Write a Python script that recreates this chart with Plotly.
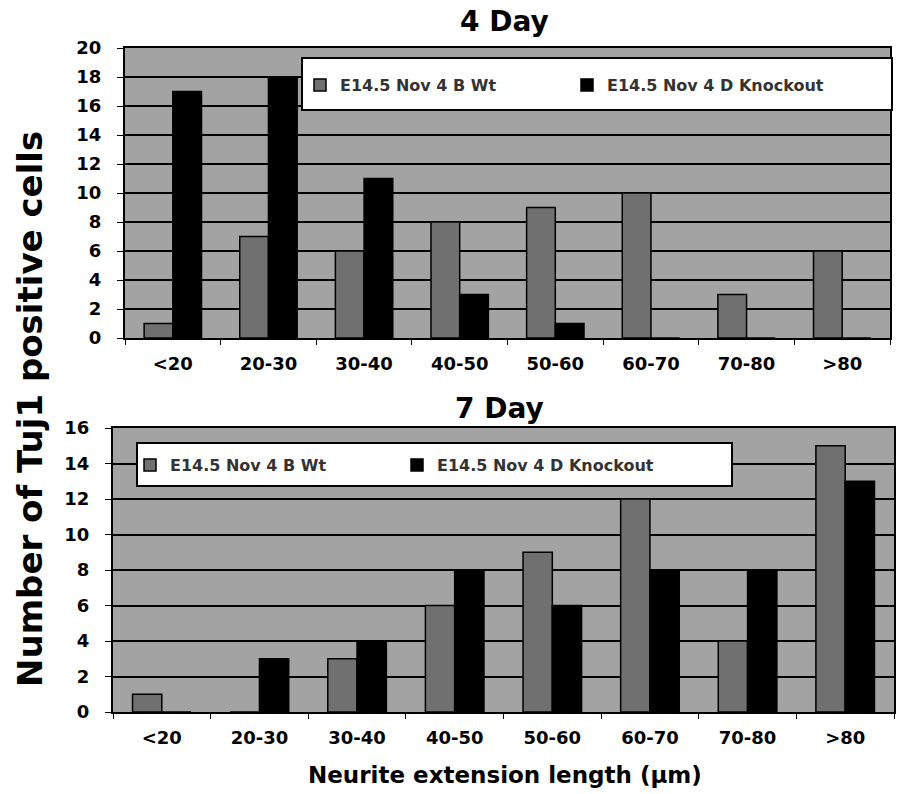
import plotly.graph_objects as go

categories = ["<20", "20-30", "30-40", "40-50", "50-60", "60-70", "70-80", ">80"]
day4_wt = [1, 7, 6, 8, 9, 10, 3, 6]
day4_ko = [17, 18, 11, 3, 1, 0, 0, 0]
day7_wt = [1, 0, 3, 6, 9, 12, 4, 15]
day7_ko = [0, 3, 4, 8, 6, 8, 8, 13]
wt_name = "E14.5 Nov 4 B Wt"
ko_name = "E14.5 Nov 4 D Knockout"
y1_ticks = list(range(0, 21, 2))
y2_ticks = list(range(0, 17, 2))

W, H = 899, 794
FONT = "DejaVu Sans"
BG = "#a3a3a3"
WT_COLOR = "#707070"

def px_x(p):
    return p / W

def px_y(p):
    return 1 - p / H

fig = go.Figure()

fig.add_trace(go.Bar(x=categories, y=day4_wt, name=wt_name, xaxis="x", yaxis="y",
                     marker=dict(color=WT_COLOR, line=dict(color="black", width=1.5)),
                     legend="legend"))
fig.add_trace(go.Bar(x=categories, y=day4_ko, name=ko_name, xaxis="x", yaxis="y",
                     marker=dict(color="black", line=dict(color="black", width=1.5)),
                     legend="legend"))
fig.add_trace(go.Bar(x=categories, y=day7_wt, name=wt_name, xaxis="x2", yaxis="y2",
                     marker=dict(color=WT_COLOR, line=dict(color="black", width=1.5)),
                     legend="legend2"))
fig.add_trace(go.Bar(x=categories, y=day7_ko, name=ko_name, xaxis="x2", yaxis="y2",
                     marker=dict(color="black", line=dict(color="black", width=1.5)),
                     legend="legend2"))

tickfont = dict(family=FONT, size=18, color="black", weight="bold")
ytickfont = dict(family=FONT, size=18, color="black", weight="bold")

common_x = dict(type="category", tickson="boundaries", ticks="outside", ticklen=5,
                tickcolor="black", tickfont=tickfont, showline=True, linecolor="black",
                linewidth=2, mirror=True, showgrid=False, automargin=False,
                ticklabelstandoff=8)
common_y = dict(ticks="outside", ticklen=6, tickcolor="black", tickfont=ytickfont,
                showline=True, linecolor="black", linewidth=2, mirror=True,
                showgrid=True, gridcolor="black", gridwidth=2, zeroline=False,
                automargin=False, ticklabelstandoff=12)

legend_common = dict(orientation="h", bgcolor="rgba(0,0,0,0)", borderwidth=0,
                     xanchor="left", yanchor="middle", entrywidth=222,
                     entrywidthmode="pixels",
                     font=dict(family=FONT, size=16, color="#333333", weight="bold"),
                     itemclick=False)

title_font = dict(family=FONT, size=28, color="black", weight="bold")

legend_box = dict(type="rect", xref="paper", yref="paper", fillcolor="white",
                  line=dict(color="black", width=2), layer="above")

fig.update_layout(
    width=W, height=H,
    margin=dict(l=0, r=0, t=0, b=0, autoexpand=False),
    paper_bgcolor="white",
    plot_bgcolor=BG,
    barmode="group",
    bargap=0.4,
    bargroupgap=0.0,
    xaxis=dict(domain=[px_x(125), px_x(890)], anchor="y", **common_x),
    yaxis=dict(domain=[px_y(338), px_y(48)], anchor="x", range=[0, 20],
               tickvals=y1_ticks, **common_y),
    xaxis2=dict(domain=[px_x(113), px_x(894)], anchor="y2", **common_x),
    yaxis2=dict(domain=[px_y(712), px_y(428)], anchor="x2", range=[0, 16],
                tickvals=y2_ticks, **common_y),
    legend=dict(x=px_x(300), y=px_y(85), **legend_common),
    legend2=dict(x=px_x(130), y=px_y(465), **legend_common),
    shapes=[
        dict(x0=px_x(302), x1=px_x(892), y0=px_y(110), y1=px_y(58), **legend_box),
        dict(x0=px_x(137), x1=px_x(732), y0=px_y(486), y1=px_y(443), **legend_box),
    ],
    annotations=[
        dict(text="4 Day", x=px_x(504), y=px_y(22), xref="paper", yref="paper",
             xanchor="center", yanchor="middle", showarrow=False, font=title_font),
        dict(text="7 Day", x=px_x(500), y=px_y(408), xref="paper", yref="paper",
             xanchor="center", yanchor="middle", showarrow=False, font=title_font),
        dict(text="Number of Tuj1 positive cells", x=px_x(30), y=px_y(409),
             xref="paper", yref="paper", xanchor="center", yanchor="middle",
             showarrow=False, textangle=-90,
             font=dict(family=FONT, size=34, color="black", weight="bold")),
        dict(text="Neurite extension length (µm)", x=px_x(505), y=px_y(775),
             xref="paper", yref="paper", xanchor="center", yanchor="middle",
             showarrow=False,
             font=dict(family=FONT, size=23, color="black", weight="bold")),
    ],
)

fig.write_html("out.html")
